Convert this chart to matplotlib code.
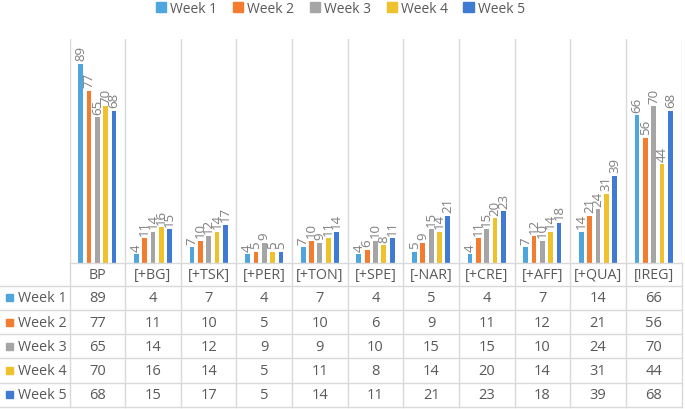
import numpy as np
import matplotlib
matplotlib.use('Agg')
import matplotlib.pyplot as plt
from matplotlib.patches import Rectangle

plt.rcParams['font.family'] = ['Open Sans', 'DejaVu Sans']

# chart data
categories = ['BP', '[+BG]', '[+TSK]', '[+PER]', '[+TON]', '[+SPE]', '[-NAR]',
              '[+CRE]', '[+AFF]', '[+QUA]', '[!REG]']
series_names = ['Week 1', 'Week 2', 'Week 3', 'Week 4', 'Week 5']
week1 = [89, 4, 7, 4, 7, 4, 5, 4, 7, 14, 66]
week2 = [77, 11, 10, 5, 10, 6, 9, 11, 12, 21, 56]
week3 = [65, 14, 12, 9, 9, 10, 15, 15, 10, 24, 70]
week4 = [70, 16, 14, 5, 11, 8, 14, 20, 14, 31, 44]
week5 = [68, 15, 17, 5, 14, 11, 21, 23, 18, 39, 68]
series = [week1, week2, week3, week4, week5]
colors = ['#4FA6DD', '#F47C30', '#A5A5A5', '#EFC12C', '#3F7BD3']

TXT = '#595959'
LBL = '#7F7F7F'
GRID = '#D9D9D9'
W, H = 685, 410

fig = plt.figure(figsize=(6.85, 4.10), dpi=100)

# layout in pixels
x_left, x_right = 69.5, 681.5
y_top, y_base = 40, 264
row_edges = [264, 286.7, 311, 335.2, 359.4, 383.6, 407.8]
ncat = len(categories)
unit = (x_right - x_left) / ncat

ax = fig.add_axes([x_left / W, 1 - y_base / H, (x_right - x_left) / W, (y_base - y_top) / H])
ax.set_xlim(-0.5, ncat - 0.5)
ax.set_ylim(0, 100)
for s in ax.spines.values():
    s.set_visible(False)
ax.set_xticks([])
ax.set_yticks([])
for b in np.arange(-0.5, ncat, 1.0):
    ax.axvline(b, color=GRID, lw=1, zorder=0)

x = np.arange(ncat)
step = 0.15
bw = 0.085
for i, (vals, c) in enumerate(zip(series, colors)):
    xs = x + (i - 2) * step
    ax.bar(xs, vals, width=bw, color=c, zorder=2)
    for xi, v in zip(xs, vals):
        ax.annotate(str(v), (xi, v), xytext=(0, 2.5), textcoords='offset points',
                    rotation=90, ha='center', va='bottom', fontsize=9.5, color=LBL)

# data table below the chart
label_units = x_left / unit
tax = fig.add_axes([0, 1 - 409 / H, x_right / W, (409 - y_base) / H])
tax.set_xlim(-0.5 - label_units, ncat - 0.5)
tax.set_ylim(409, y_base)
tax.axis('off')

for k, yv in enumerate(row_edges):
    x0 = -0.5 if k == 0 else -0.5 - label_units
    tax.plot([x0, ncat - 0.5], [yv, yv], color=GRID, lw=1, clip_on=False)
for b in np.arange(-0.5, ncat, 1.0):
    tax.plot([b, b], [row_edges[0], row_edges[-1]], color=GRID, lw=1, clip_on=False)

hy = (row_edges[0] + row_edges[1]) / 2
for j, cat in enumerate(categories):
    tax.text(j, hy, cat, ha='center', va='center', fontsize=10.3, color=TXT)

for i, (name, vals, c) in enumerate(zip(series_names, series, colors)):
    yc = (row_edges[i + 1] + row_edges[i + 2]) / 2
    sx = -0.5 - label_units + 6 / unit
    tax.add_patch(Rectangle((sx, yc - 3.5), 7 / unit, 7, color=c, clip_on=False))
    tax.text(-0.5 - label_units + 18 / unit, yc, name, ha='left', va='center',
             fontsize=10.3, color=TXT)
    for j, v in enumerate(vals):
        tax.text(j, yc, str(v), ha='center', va='center', fontsize=10.5, color=TXT)

handles = [Rectangle((0, 0), 1, 1, color=c) for c in colors]
fig.legend(handles, series_names, loc='upper center', bbox_to_anchor=(0.497, 1.025),
           ncol=5, frameon=False, fontsize=10, handlelength=0.75, handleheight=0.75,
           handletextpad=0.3, columnspacing=1.1, labelcolor=TXT)

fig.savefig('out.png', dpi=100)
